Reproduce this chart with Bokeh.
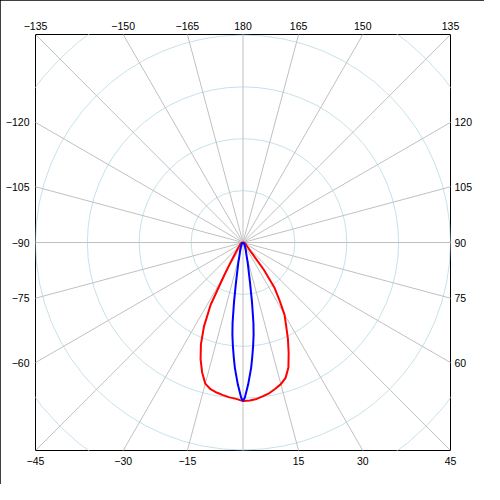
import numpy as np
from bokeh.plotting import figure
from bokeh.models import Range1d, LinearAxis, FixedTicker
from bokeh.embed import file_html
from bokeh.resources import INLINE

# ---- data (polar: angle in degrees, 0 = down, +90 = right) ----
red_angles = [-90, -80, -70, -60, -50, -45, -40, -35, -32.5, -30, -27.5, -25, -22.5, -20,
              -17.5, -15, -12.5, -10, -7.5, -5, -2.5, 0, 2.5, 5, 7.5, 10, 12.5, 15, 17.5,
              20, 22.5, 25, 27.5, 30, 32.5, 35, 37.5, 40, 45, 50, 60, 70, 80, 90]
red_values = [0.0, 0.02, 0.04, 0.06, 0.08, 0.11, 0.16, 0.28, 0.42, 0.71, 1.35, 1.78, 2.12, 2.39,
              2.62, 2.81, 2.89, 2.93, 2.96, 2.99, 3.01, 3.05, 3.04, 3.02, 2.98, 2.94, 2.88, 2.82, 2.73,
              2.56, 2.30, 2.05, 1.80, 1.60, 1.30, 1.05, 0.66, 0.25, 0.13, 0.09, 0.06, 0.04, 0.02, 0.0]

blue_angles = [-90, -60, -45, -30, -25, -20, -15, -13.0, -9.9, -8.6, -7.4, -6.6, -5.6, -4.5,
               -3.7, -2.1, -0.7, 0, 0.7, 2.1, 3.7, 4.5, 5.6, 6.6, 7.4, 8.6, 9.9, 13.0,
               15, 20, 25, 30, 45, 60, 90]
blue_values = [0.0, 0.02, 0.03, 0.07, 0.10, 0.16, 0.27, 0.41, 0.79, 1.16, 1.56, 1.78, 2.00, 2.24,
               2.42, 2.73, 2.98, 3.05, 2.98, 2.73, 2.42, 2.24, 2.00, 1.78, 1.56, 1.16, 0.79, 0.41,
               0.27, 0.16, 0.10, 0.07, 0.03, 0.02, 0.0]

ring_radii = [1, 2, 3, 4, 5]
spoke_angles = list(range(-165, 181, 15))

top_angles = [-135, -150, -165, 180, 165, 150, 135]
bottom_angles = [-45, -30, -15, 15, 30, 45]
left_angles = [-120, -105, -90, -75, -60]
right_angles = [120, 105, 90, 75, 60]

R = 4.0  # half extent of frame in data units


def label(a):
    return str(a).replace("-", "\u2212")


def polar(angles, values):
    a = np.radians(np.array(angles, dtype=float))
    r = np.array(values, dtype=float)
    return r * np.sin(a), -r * np.cos(a)


p = figure(width=484, height=484, x_range=Range1d(-R, R), y_range=Range1d(-R, R),
           output_backend="svg", toolbar_location=None,
           min_border_left=35, min_border_right=34, min_border_top=34, min_border_bottom=34,
           x_axis_location=None, y_axis_location=None)
p.grid.visible = False
p.outline_line_color = "black"
p.outline_line_width = 1
p.outline_line_alpha = 1.0
p.background_fill_color = "white"
p.border_fill_color = "white"
p.styles = {"outline": "1px solid black", "outline-offset": "-1px"}

# rings
for rr in ring_radii:
    p.circle(x=[0], y=[0], radius=rr, fill_color=None, line_color="#c6e2ea", line_width=1)

# spokes
for a in spoke_angles:
    sx, sy = polar([a], [6.0])
    p.line(x=[0, sx[0]], y=[0, sy[0]], line_color="#c0c0c0", line_width=1)

# curves
rx, ry = polar(red_angles, red_values)
p.line(rx, ry, line_color="#ff0000", line_width=2)
bx, by = polar(blue_angles, blue_values)
p.line(bx, by, line_color="#0000ff", line_width=2)


def make_axis(kind, angles, standoff):
    a = np.radians(np.array(angles, dtype=float))
    if kind == "above":
        pos = -R * np.tan(a)
    elif kind == "below":
        pos = R * np.tan(a)
    elif kind == "left":
        pos = R * np.cos(a) / np.sin(a)
    else:
        pos = -R * np.cos(a) / np.sin(a)
    pos = [round(float(v), 4) for v in pos]
    ax = LinearAxis(ticker=FixedTicker(ticks=pos))
    ax.major_label_overrides = {v: label(t) for v, t in zip(pos, angles)}
    ax.axis_line_color = None
    ax.major_tick_line_color = None
    ax.minor_tick_line_color = None
    ax.major_tick_out = 0
    ax.major_tick_in = 0
    ax.major_label_text_font = "Liberation Sans"
    ax.major_label_text_font_size = "10.5px"
    ax.major_label_text_color = "black"
    ax.major_label_standoff = standoff
    p.add_layout(ax, kind)


make_axis("above", top_angles, 5)
make_axis("below", bottom_angles, 6)
make_axis("left", left_angles, 6)
make_axis("right", right_angles, 4)

open("out.html", "w").write(file_html(p, INLINE))
